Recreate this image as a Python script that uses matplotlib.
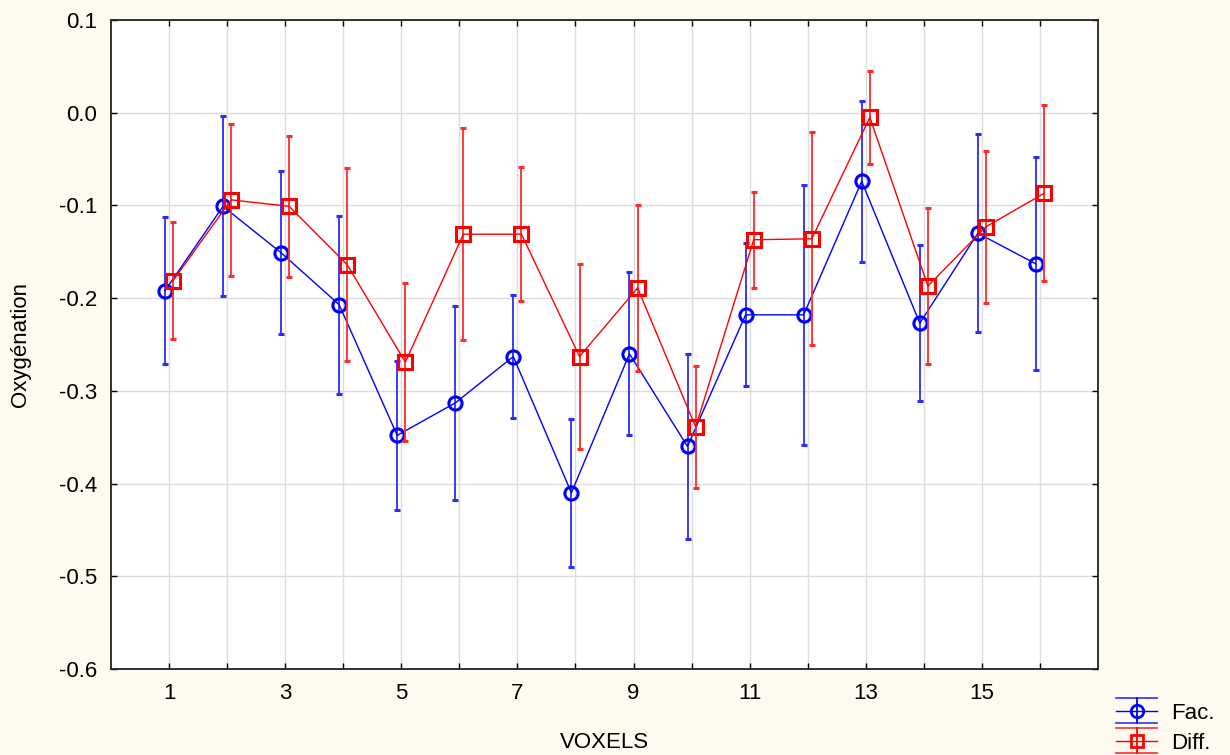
"""Oxygénation par voxel : moyennes ± erreur pour les conditions Fac. et Diff."""
import matplotlib
matplotlib.use("Agg")
import matplotlib.pyplot as plt
from matplotlib.legend_handler import HandlerBase
from matplotlib.lines import Line2D
from matplotlib.ticker import FixedLocator, FuncFormatter

plt.rcParams["font.family"] = ["Liberation Sans", "DejaVu Sans"]
plt.rcParams["axes.unicode_minus"] = False

voxels = list(range(1, 17))

fac_mean = [-0.192, -0.101, -0.151, -0.207, -0.348, -0.313, -0.263, -0.410,
            -0.260, -0.360, -0.218, -0.218, -0.074, -0.227, -0.130, -0.163]
fac_err = [0.079, 0.097, 0.088, 0.096, 0.080, 0.105, 0.066, 0.080,
           0.088, 0.100, 0.077, 0.140, 0.087, 0.084, 0.107, 0.115]

diff_mean = [-0.181, -0.094, -0.101, -0.164, -0.269, -0.131, -0.131, -0.263,
             -0.189, -0.339, -0.137, -0.136, -0.005, -0.187, -0.123, -0.087]
diff_err = [0.063, 0.082, 0.076, 0.104, 0.085, 0.114, 0.072, 0.100,
            0.090, 0.066, 0.052, 0.115, 0.050, 0.084, 0.082, 0.095]

BG = "#fffaf0"
OFFSET = 0.07
FS = 16


class ErrKey:
    """Legend key: mean marker with full-width cap lines above and below."""
    def __init__(self, color, marker):
        self.color = color
        self.marker = marker


class HandlerErrKey(HandlerBase):
    def create_artists(self, legend, h, xdescent, ydescent, width, height,
                       fontsize, trans):
        x0, x1 = -xdescent, -xdescent + width
        xc = (x0 + x1) / 2
        yc = height / 2 - ydescent
        half = 0.8 * height
        arts = [
            Line2D([x0, x1], [yc, yc], color=h.color, lw=1.0),
            Line2D([x0, x1], [yc + half, yc + half], color=h.color, lw=1.3, alpha=0.75),
            Line2D([x0, x1], [yc - half, yc - half], color=h.color, lw=1.3, alpha=0.75),
            Line2D([xc, xc], [yc - half, yc + half], color=h.color, lw=1.3),
            Line2D([xc], [yc], color=h.color, marker=h.marker, markersize=9,
                   markerfacecolor="none", markeredgewidth=2.0),
        ]
        for a in arts:
            a.set_transform(trans)
        return arts


fig = plt.figure(figsize=(12.3, 7.55), dpi=100, facecolor=BG)
ax = fig.add_axes([0.0902, 0.1139, 0.8025, 0.8596])
ax.set_facecolor("white")

ax.errorbar([v - OFFSET for v in voxels], fac_mean, yerr=fac_err,
            color="#0000ff", ecolor="#2b2bff", elinewidth=1.3, capsize=2.5,
            capthick=1.3, linewidth=1.0, marker="o", markersize=9.5,
            markerfacecolor="none", markeredgewidth=2.2, zorder=3)
ax.errorbar([v + OFFSET for v in voxels], diff_mean, yerr=diff_err,
            color="#ff0000", ecolor="#ff2b2b", elinewidth=1.3, capsize=2.5,
            capthick=1.3, linewidth=1.0, marker="s", markersize=10,
            markerfacecolor="none", markeredgewidth=2.2, zorder=4)

ax.set_xlim(0, 17)
ax.set_ylim(-0.6, 0.1)
ax.xaxis.set_major_locator(FixedLocator(voxels))
ax.xaxis.set_major_formatter(FuncFormatter(lambda v, p: f"{int(v)}" if int(v) % 2 else ""))
ax.yaxis.set_major_locator(FixedLocator([0.1 - 0.1 * i for i in range(8)]))
ax.yaxis.set_major_formatter(FuncFormatter(lambda v, p: f"{v:.1f}".replace("-0.0", "0.0")))
ax.tick_params(direction="in", length=4, width=1, labelsize=FS,
               top=True, right=True, pad=10)
ax.grid(True, color="#dcdcdc", linewidth=1.0, zorder=0)
ax.set_axisbelow(True)
for s in ax.spines.values():
    s.set_linewidth(1.3)
    s.set_color("#222222")

ax.set_xlabel("VOXELS", fontsize=FS, labelpad=20)
ax.set_ylabel("Oxygénation", fontsize=FS, labelpad=20)

handles = [ErrKey("#0000ff", "o"), ErrKey("#ff0000", "s")]
fig.legend(handles, ["Fac.", "Diff."], handler_map={ErrKey: HandlerErrKey()},
           loc="lower left", bbox_to_anchor=(0.904, -0.004), frameon=False,
           fontsize=FS, handlelength=1.85, handletextpad=0.6,
           labelspacing=0.4, borderaxespad=0.0, borderpad=0.2)

fig.savefig("out.png", dpi=100, facecolor=BG)
